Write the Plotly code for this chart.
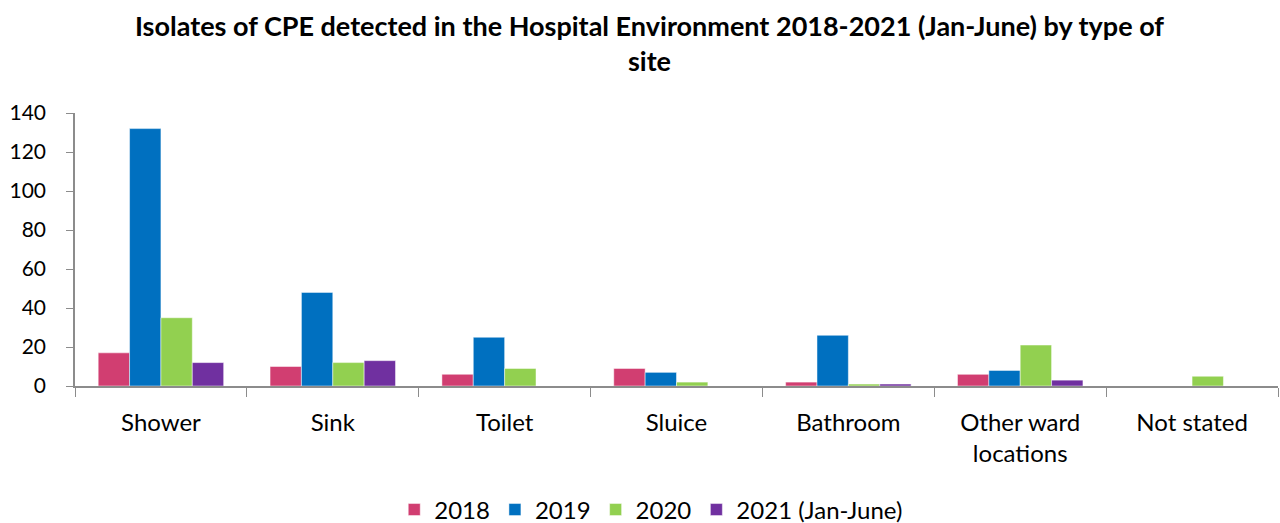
import plotly.graph_objects as go

categories = ["Shower", "Sink", "Toilet", "Sluice", "Bathroom", "Other ward<br>locations", "Not stated"]
series_names = ["2018", "2019", "2020", "2021 (Jan-June)"]
v2018 = [17, 10, 6, 9, 2, 6, 0]
v2019 = [132, 48, 25, 7, 26, 8, 0]
v2020 = [35, 12, 9, 2, 1, 21, 5]
v2021 = [12, 13, 0, 0, 1, 3, 0]
colors = ["#D13E71", "#0070C0", "#92D050", "#7030A0"]

fig = go.Figure()
for name, vals, c in zip(series_names, [v2018, v2019, v2020, v2021], colors):
    fig.add_trace(go.Bar(x=categories, y=vals, name=name, marker_color=c,
                         marker_line=dict(color="rgba(255,255,255,0.6)", width=0.8)))

font_family = "Lato, 'Open Sans', Arial, sans-serif"
fig.update_layout(
    width=1280, height=523,
    paper_bgcolor="white", plot_bgcolor="white",
    margin=dict(l=75, r=2, t=113, b=137, autoexpand=False),
    barmode="group", bargap=0.27, bargroupgap=0,
    font=dict(family=font_family, size=23, color="#000000"),
    title=dict(text="<b>Isolates of CPE detected in the Hospital Environment 2018-2021 (Jan-June) by type of<br>site</b>",
               xref="container", x=0.5074, xanchor="center",
               yref="container", y=0.931, yanchor="middle",
               font=dict(family=font_family, size=27, color="#000000")),
    legend=dict(orientation="h", x=0.479, xanchor="center", y=-0.454, yanchor="middle",
                font=dict(size=24), itemwidth=30, traceorder="normal"),
    showlegend=True,
)
fig.update_xaxes(showline=True, linecolor="#8C8C8C", linewidth=1.5, ticks="outside",
                 tickson="boundaries", ticklen=9, tickcolor="#8C8C8C", showgrid=False,
                 tickfont=dict(size=24), automargin=False, ticklabelstandoff=14)
fig.update_yaxes(range=[0, 140], dtick=20, showline=True, linecolor="#8C8C8C", linewidth=1.5,
                 ticks="outside", ticklen=7, tickcolor="#8C8C8C", showgrid=False, zeroline=False,
                 tickfont=dict(size=21), automargin=False, ticklabelstandoff=16)

fig.write_html("out.html", config={"displayModeBar": False},
               post_script="document.body.style.margin='0';document.body.style.overflow='hidden';")
